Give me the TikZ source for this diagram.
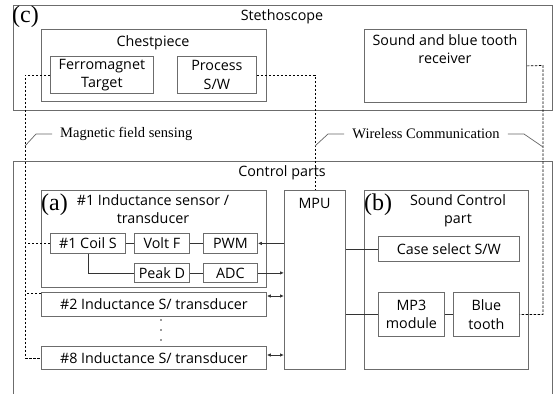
\documentclass[tikz,border=0pt]{standalone}
\usepackage{fontspec}
\setmainfont{Open Sans}
\newfontfamily\serf{Liberation Serif}
\usetikzlibrary{arrows.meta,calc}
\begin{document}
\begin{tikzpicture}[x=1pt,y=-1pt,
  box/.style={draw=gray!85!black,line width=0.8pt,inner sep=0pt,anchor=north west,align=center,font=\fontsize{14.3}{18.5}\selectfont},
  txt/.style={inner sep=0pt,font=\fontsize{14.3}{18.5}\selectfont,align=center},
  tag/.style={inner sep=0pt,anchor=west,font=\serf\fontsize{24}{24}\selectfont},
  lbl/.style={inner sep=0pt,font=\serf\fontsize{14.5}{16}\selectfont},
  dsh/.style={dashed,dash pattern=on 2.5pt off 1.5pt,line width=0.7pt,black},
  con/.style={line width=0.8pt,black!80},
  arr/.style={con,-{Latex[length=4pt,width=3.5pt]}},
  darr/.style={con,{Latex[length=4pt,width=3.5pt]}-{Latex[length=4pt,width=3.5pt]}},
  lead/.style={line width=0.7pt,gray!80!black}]
\useasboundingbox (0,0) rectangle (556,393);
% Stethoscope
\node[box,minimum width=539pt,minimum height=105pt] (steth) at (13,5) {};
\node[tag] (ctag) at (12,17) {(c)};
\node[txt] (stethT) at (282,17) {Stethoscope};
\node[box,minimum width=225pt,minimum height=72pt] (chest) at (41,29) {};
\node[txt] (chestT) at (153,43) {Chestpiece};
\node[box,minimum width=103pt,minimum height=37pt] (ferro) at (50,56) {Ferromagnet\\Target};
\node[box,minimum width=79pt,minimum height=37pt] (proc) at (177,56) {Process\\S/W};
\node[box,minimum width=162pt,minimum height=73pt] (recv) at (364,29) {};
\node[txt,anchor=north] (recvT) at (445,34) {Sound and blue tooth\\receiver};
% Control parts
\coordinate (cbl) at (13,400);
\coordinate (cbr) at (552,400);
\draw[draw=gray!85!black,line width=0.8pt] (cbl) -- (13,161) -- (552,161) -- (cbr);
\node[txt] (ctrlT) at (282,173) {Control parts};
\node[box,minimum width=225pt,minimum height=97pt] (a) at (41,190) {};
\node[tag] (atag) at (41,205) {(a)};
\node[txt,anchor=north] (aT) at (153,194) {\#1 Inductance sensor /\\transducer};
\node[box,minimum width=75pt,minimum height=20pt] (coil) at (50,233) {\#1 Coil S};
\node[box,minimum width=55pt,minimum height=20pt] (volt) at (134,233) {Volt F};
\node[box,minimum width=54pt,minimum height=20pt] (pwm) at (203,233) {PWM};
\node[box,minimum width=55pt,minimum height=19pt] (peak) at (134,263) {Peak D};
\node[box,minimum width=54pt,minimum height=19pt] (adc) at (203,263) {ADC};
\node[box,minimum width=225pt,minimum height=24pt] (t2) at (41,292) {\#2 Inductance S/ transducer};
\node[box,minimum width=225pt,minimum height=23pt] (t8) at (41,346) {\#8 Inductance S/ transducer};
\fill[black!80] (161,320) circle (0.9) (161,330) circle (0.9) (161,340) circle (0.9);
\node[box,minimum width=61pt,minimum height=179pt] (mpu) at (284,190) {};
\node[txt] (mpuT) at (314.5,203) {MPU};
\node[box,minimum width=164pt,minimum height=179pt] (b) at (364,190) {};
\node[tag] (btag) at (364,205) {(b)};
\node[txt,anchor=north] (bT) at (458,194) {Sound Control\\part};
\node[box,minimum width=141pt,minimum height=25pt] (case) at (378,236) {Case select S/W};
\node[box,minimum width=66pt,minimum height=44pt] (mp3) at (378,292) {MP3\\module};
\node[box,minimum width=66pt,minimum height=44pt] (bt) at (453,292) {Blue\\tooth};
% helper coordinates
\coordinate (lx) at (25,75);
\coordinate (rx) at (543,65.5);
\coordinate (t2a) at ($(t2.north east)+(0,4)$);
\coordinate (t8a) at ($(t8.north east)+(0,9)$);
\coordinate (t2d) at ($(t2.north west)+(0,1)$);
% solid connectors
\draw[con] (coil) -- (volt);
\draw[con] (volt) -- (pwm);
\draw[con] (peak) -- (adc);
\draw[con] (coil.south) |- (peak.west);
\draw[arr] (mpu.west |- pwm.east) -- (pwm.east);
\draw[arr] (adc.east) -- (mpu.west |- adc.east);
\draw[darr] (t2a) -- (mpu.west |- t2a);
\draw[darr] (t8a) -- (mpu.west |- t8a);
\draw[con] (mpu.east |- case.west) -- (case.west);
\draw[con] (mpu.east |- mp3.west) -- (mp3.west);
\draw[con] (mp3) -- (bt);
% dashed connectors
\draw[dsh] (ferro.west) -- (lx |- ferro.west) -- (lx |- t8.west) -- (t8.west);
\draw[dsh] (coil.west) -- (lx |- coil.west);
\draw[dsh] (t2d) -- (lx |- t2d);
\draw[dsh] (proc.east) -- (proc.east -| mpu.north) -- (mpu.north);
\draw[dsh] (recv.east) -- (rx) -- (rx |- bt.east) -- (bt.east);
% labels
\coordinate (m1) at (25,146);
\draw[lead] (m1) -- (36,134) -- (52,134);
\node[lbl,anchor=west] (magT) at (60,134) {Magnetic field sensing};
\coordinate (w1) at (315,146);
\coordinate (w2) at (543,147);
\node[lbl] (wirT) at (426,134) {Wireless Communication};
\draw[lead] (w1) -- (328,134) -- ($(wirT.west)+(-8,0)$);
\draw[lead] ($(wirT.east)+(8,0)$) -- (524,134) -- (w2);
\end{tikzpicture}
\end{document}
